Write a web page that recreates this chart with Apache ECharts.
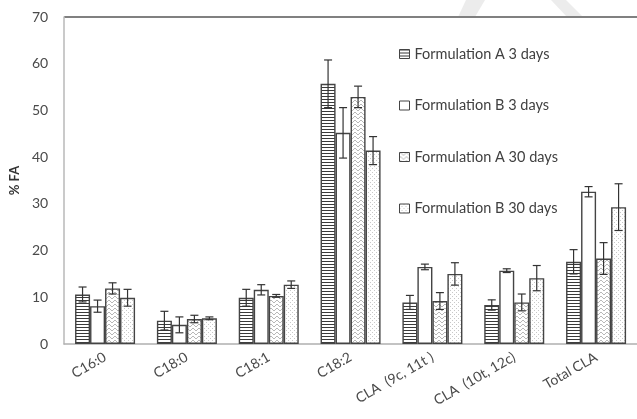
<!DOCTYPE html>
<html><head><meta charset="utf-8">
<script src="https://cdn.jsdelivr.net/npm/echarts@6/dist/echarts.min.js"></script>
<style>html,body{margin:0;padding:0;background:#fff}#c{width:637px;height:419px}</style>
</head><body><div id="c"></div>
<script>
const categories = ['C16:0','C18:0','C18:1','C18:2','CLA  (9c, 11t )','CLA  (10t, 12c)','Total CLA'];
const seriesNames = ['Formulation A 3 days','Formulation B 3 days','Formulation A 30 days','Formulation B 30 days'];
const valuesA3  = [10.6, 5.0, 9.9, 55.7, 8.9, 8.35, 17.6];
const errA3     = [1.6, 2.0, 1.8, 5.1, 1.5, 1.1, 2.6];
const valuesB3  = [8.1, 4.1, 11.6, 45.2, 16.5, 15.7, 32.6];
const errB3     = [1.3, 1.7, 1.1, 5.4, 0.6, 0.4, 1.1];
const valuesA30 = [11.9, 5.35, 10.3, 52.9, 9.2, 8.9, 18.3];
const errA30    = [1.2, 0.8, 0.3, 2.3, 1.8, 1.8, 3.4];
const valuesB30 = [9.9, 5.5, 12.7, 41.4, 15.0, 14.1, 29.3];
const errB30    = [1.8, 0.3, 0.8, 3.0, 2.4, 2.7, 5.0];
const yTicks = [0,10,20,30,40,50,60,70];

const allValues = [valuesA3, valuesB3, valuesA30, valuesB30];
const allErr = [errA3, errB3, errA30, errB30];

function makeCanvas(w,h,draw){const c=document.createElement('canvas');c.width=w;c.height=h;const g=c.getContext('2d');g.fillStyle='#fff';g.fillRect(0,0,w,h);draw(g);return c;}
const patStripes = makeCanvas(4,3,g=>{g.fillStyle='#3a3a3a';g.fillRect(0,0,4,1);});
const patWave = makeCanvas(6,4,g=>{g.fillStyle='#b8b8b8';g.fillRect(0,0,2,1);g.fillRect(2,1,1,1);g.fillRect(3,2,2,1);g.fillRect(5,1,1,1);});
const patDots = makeCanvas(4,4,g=>{g.fillStyle='#c8c8c8';g.fillRect(0,0,1,1);g.fillRect(2,2,1,1);});
const fills = [
  {image: patStripes, repeat:'repeat'},
  '#ffffff',
  {image: patWave, repeat:'repeat'},
  {image: patDots, repeat:'repeat'}
];

const BAR_W = 15;
const FONT = 'Lato, "Open Sans", sans-serif';

const series = [];
allValues.forEach((vals,k)=>{
  series.push({
    name: seriesNames[k], type:'bar', data: vals, barWidth: BAR_W, barGap:'0%',
    itemStyle:{color: fills[k], borderColor:'#444', borderWidth:1.4},
    z: 2
  });
});
allValues.forEach((vals,k)=>{
  const off = (k-1.5)*BAR_W;
  series.push({
    type:'custom', z:5, silent:true,
    data: vals.map((v,i)=>[i, v-allErr[k][i], v+allErr[k][i]]),
    renderItem: function(params, api){
      const lo = api.coord([api.value(0), api.value(1)]);
      const hi = api.coord([api.value(0), api.value(2)]);
      const x = lo[0] + off;
      const st = {stroke:'#333', lineWidth:1.2};
      return {type:'group', children:[
        {type:'line', shape:{x1:x,y1:lo[1],x2:x,y2:hi[1]}, style:st},
        {type:'line', shape:{x1:x-4,y1:lo[1],x2:x+4,y2:lo[1]}, style:st},
        {type:'line', shape:{x1:x-4,y1:hi[1],x2:x+4,y2:hi[1]}, style:st}
      ]};
    }
  });
});

const splitColors = yTicks.map((t,i)=> i===yTicks.length-1 ? '#808080' : 'rgba(0,0,0,0)');

const chart = echarts.init(document.getElementById('c'), null, {renderer:'canvas'});
chart.setOption({
  animation:false,
  backgroundColor:'#fff',
  textStyle:{fontFamily: FONT},
  graphic:[
    {type:'polygon', z:-10, shape:{points:[[466,0],[485,0],[475,17],[458,17]]}, style:{fill:'#ececec'}},
    {type:'polygon', z:-10, shape:{points:[[551,0],[566,0],[583,17],[567,17]]}, style:{fill:'#ececec'}}
  ],
  grid:{left:62, right:-3, top:17, bottom:75},
  legend:{
    orient:'vertical', left:394, top:41, itemWidth:10, itemHeight:9, itemGap:35.5, icon:'rect',
    data: seriesNames,
    itemStyle:{borderWidth:1},
    textStyle:{fontSize:14.5, color:'#404040', fontFamily: FONT, lineHeight:16}
  },
  xAxis:{
    type:'category', data: categories,
    axisLine:{lineStyle:{color:'#b0b0b0', width:1.5}},
    axisTick:{show:false},
    axisLabel:{rotate:30, fontSize:14, color:'#4a4a4a', margin:12, interval:0, fontFamily: FONT}
  },
  yAxis:{
    type:'value', min:yTicks[0], max:yTicks[yTicks.length-1], interval:10,
    name:'% FA', nameLocation:'middle', nameRotate:90, nameGap:43,
    nameTextStyle:{fontWeight:'bold', fontSize:13, color:'#333', fontFamily: FONT},
    axisLine:{show:true, lineStyle:{color:'#b8b8b8', width:1.5}},
    axisTick:{show:false},
    splitLine:{show:true, lineStyle:{color: splitColors, width:2}},
    axisLabel:{fontSize:14, color:'#4a4a4a', margin:16, fontFamily: FONT}
  },
  series: series
});
</script></body></html>
